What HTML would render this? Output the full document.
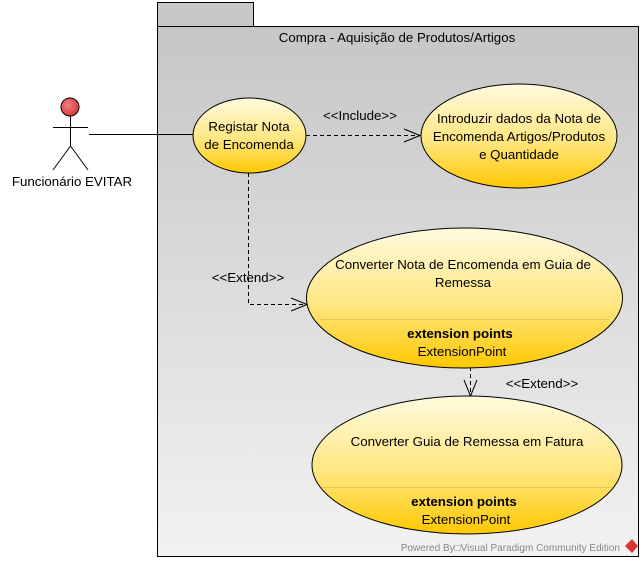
<!DOCTYPE html>
<html><head><meta charset="utf-8"><style>
html,body{margin:0;padding:0;background:#fff;}
svg{display:block;font-family:"Liberation Sans",sans-serif;}
</style></head><body>
<svg width="644" height="563" viewBox="0 0 644 563" xmlns="http://www.w3.org/2000/svg">
<defs>
<linearGradient id="pk" x1="0" y1="0" x2="0" y2="1"><stop offset="0" stop-color="#c6c6c6"/><stop offset="1" stop-color="#f2f2f2"/></linearGradient>
<linearGradient id="uc" x1="0" y1="0" x2="0" y2="1"><stop offset="0" stop-color="#fffbe0"/><stop offset="0.55" stop-color="#ffe680"/><stop offset="1" stop-color="#ffc800"/></linearGradient>
<radialGradient id="hd" cx="0.4" cy="0.4" r="0.7"><stop offset="0" stop-color="#f08080"/><stop offset="1" stop-color="#d83030"/></radialGradient>
</defs>
<rect x="157.5" y="2.5" width="96" height="24" fill="#c8c8c8" stroke="#000"/>
<rect x="157.5" y="26.5" width="481" height="530" fill="url(#pk)" stroke="#000"/>
<g font-size="13.3">
<text x="397" y="42" text-anchor="middle" fill="#000">Compra - Aquisição de Produtos/Artigos</text>
<!-- actor -->
<circle cx="70" cy="107" r="9" fill="url(#hd)" stroke="#000"/>
<line x1="53" y1="127.5" x2="88" y2="127.5" stroke="#000"/>
<line x1="70.5" y1="116" x2="70.5" y2="146" stroke="#000"/>
<line x1="70.5" y1="146" x2="53" y2="170" stroke="#000"/>
<line x1="70.5" y1="146" x2="88" y2="170" stroke="#000"/>
<text x="72" y="186" text-anchor="middle">Funcionário EVITAR</text>
<line x1="89" y1="134.5" x2="193" y2="134.5" stroke="#000"/>
<!-- connectors -->
<line x1="306" y1="135.5" x2="419" y2="135.5" stroke="#000" stroke-dasharray="4,3"/>
<polyline points="404,129 420,135.5 404,142" fill="none" stroke="#000"/>
<text x="360" y="120" text-anchor="middle">&lt;&lt;Include&gt;&gt;</text>
<polyline points="248.5,173 248.5,304.5 306,304.5" fill="none" stroke="#000" stroke-dasharray="4,3"/>
<polyline points="291,298 307,304.5 291,311" fill="none" stroke="#000"/>
<text x="248" y="282" text-anchor="middle">&lt;&lt;Extend&gt;&gt;</text>
<line x1="470.5" y1="367" x2="470.5" y2="395" stroke="#000" stroke-dasharray="4,3"/>
<polyline points="464,380 470.5,396 477,380" fill="none" stroke="#000"/>
<text x="542" y="388" text-anchor="middle">&lt;&lt;Extend&gt;&gt;</text>
<!-- use cases -->
<ellipse cx="249.5" cy="135.5" rx="56.5" ry="37.5" fill="url(#uc)" stroke="#000"/>
<text x="249" y="131" text-anchor="middle">Registar Nota</text>
<text x="249" y="149" text-anchor="middle">de Encomenda</text>
<ellipse cx="519" cy="136" rx="98" ry="52" fill="url(#uc)" stroke="#000"/>
<text x="519" y="123" text-anchor="middle">Introduzir dados da Nota de</text>
<text x="519" y="141" text-anchor="middle">Encomenda Artigos/Produtos</text>
<text x="519" y="159" text-anchor="middle">e Quantidade</text>
<ellipse cx="464.5" cy="298" rx="158" ry="70" fill="url(#uc)" stroke="#000"/>
<line x1="320" y1="319.5" x2="609" y2="319.5" stroke="#e8c860"/>
<text x="463" y="269" text-anchor="middle">Converter Nota de Encomenda em Guia de</text>
<text x="463" y="287" text-anchor="middle">Remessa</text>
<text x="460" y="338" font-weight="bold" text-anchor="middle">extension points</text>
<text x="462" y="356" text-anchor="middle">ExtensionPoint</text>
<ellipse cx="467" cy="465" rx="155" ry="69" fill="url(#uc)" stroke="#000"/>
<line x1="322" y1="487.5" x2="612" y2="487.5" stroke="#e8c860"/>
<text x="467" y="446" text-anchor="middle">Converter Guia de Remessa em Fatura</text>
<text x="464" y="506" font-weight="bold" text-anchor="middle">extension points</text>
<text x="466" y="524" text-anchor="middle">ExtensionPoint</text>
</g>
<text x="620" y="551" font-size="10" text-anchor="end" fill="#888">Powered By□Visual Paradigm Community Edition</text>
<path d="M632 539 L638 546 L632 553 L625 546 Z" fill="#d33"/>
</svg>
</body></html>
